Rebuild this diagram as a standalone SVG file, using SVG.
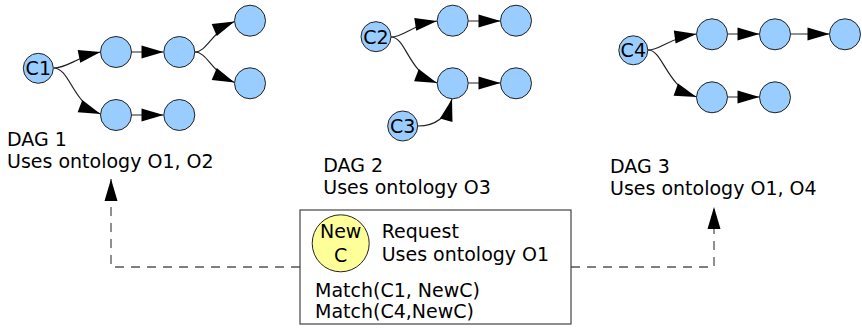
<svg xmlns="http://www.w3.org/2000/svg" width="862" height="328" viewBox="0 0 862 328">
<defs>
<marker id="arr" markerUnits="userSpaceOnUse" markerWidth="24" markerHeight="15" refX="22" refY="7" orient="auto" overflow="visible">
<path d="M0,0.5 L22,7 L0,13.5 z" fill="#000"/>
</marker>
</defs>
<style>
.n{fill:#99ccff;stroke:#222;stroke-width:1}
.y{fill:#ffff99;stroke:#222;stroke-width:1}
.e{fill:none;stroke:#222;stroke-width:1.2;marker-end:url(#arr)}
.d{fill:none;stroke:#555;stroke-width:1.3;stroke-dasharray:9 7;marker-end:url(#arr)}
text{font-family:"DejaVu Sans",Verdana,sans-serif;font-size:19px;fill:#000}
.c{text-anchor:middle}
</style>
<rect width="862" height="328" fill="#fff"/>
<g id="connectors">
<path class="e" d="M53.5,68 C68,68 76,57 100.5,52"/>
<path class="e" d="M53.5,68 C70,68 72,103 100.5,114"/>
<path class="e" d="M131.5,52 H163.5"/>
<path class="e" d="M195,52 C207,52 212,31 234.5,21.5"/>
<path class="e" d="M195,52 C207,52 212,73 234.5,82.5"/>
<path class="e" d="M131.5,115 H163.5"/>
<path class="e" d="M391,37 C404,37 411,25 437,21"/>
<path class="e" d="M391,37 C406,37 408,72 437,83"/>
<path class="e" d="M468,21 H500.5"/>
<path class="e" d="M468,83 H500.5"/>
<path class="e" d="M418,126 C432,126 446,121 452,99"/>
<path class="e" d="M648,50 C661,50 668,38 696.5,34"/>
<path class="e" d="M648,50 C663,50 666,86 696.5,97"/>
<path class="e" d="M727.5,34 H759.5"/>
<path class="e" d="M790.5,34 H829.5"/>
<path class="e" d="M727.5,97 H759.5"/>
<path class="d" d="M300,267 H111 V179"/>
<path class="d" d="M571,267 H714 V207"/>
</g>
<g id="dag1">
<g id="C1"><circle class="n" cx="38.3" cy="68.3" r="15"/><text class="c" x="38.3" y="75">C1</text></g>
<g id="d1a"><circle class="n" cx="116" cy="52" r="15.5"/></g>
<g id="d1b"><circle class="n" cx="179.3" cy="52" r="15.5"/></g>
<g id="d1c"><circle class="n" cx="250" cy="20.7" r="15.5"/></g>
<g id="d1d"><circle class="n" cx="250" cy="83.3" r="15.5"/></g>
<g id="d1e"><circle class="n" cx="116" cy="115" r="15.5"/></g>
<g id="d1f"><circle class="n" cx="179.3" cy="115" r="15.5"/></g>
<text x="7" y="146">DAG 1</text>
<text x="7" y="168">Uses ontology O1, O2</text>
</g>
<g id="dag2">
<g id="C2"><circle class="n" cx="376" cy="36.7" r="15"/><text class="c" x="376" y="43.5">C2</text></g>
<g id="C3"><circle class="n" cx="402.7" cy="126" r="15"/><text class="c" x="402.7" y="132.8">C3</text></g>
<g id="d2a"><circle class="n" cx="452.7" cy="20.7" r="15.5"/></g>
<g id="d2b"><circle class="n" cx="516" cy="20.7" r="15.5"/></g>
<g id="d2c"><circle class="n" cx="452.7" cy="83.3" r="15.5"/></g>
<g id="d2d"><circle class="n" cx="516" cy="83.3" r="15.5"/></g>
<text x="323.3" y="171.7">DAG 2</text>
<text x="323.3" y="194">Uses ontology O3</text>
</g>
<g id="dag3">
<g id="C4"><circle class="n" cx="633.3" cy="50.3" r="14.5"/><text class="c" x="633.3" y="57">C4</text></g>
<g id="d3a"><circle class="n" cx="712" cy="34.3" r="15.5"/></g>
<g id="d3b"><circle class="n" cx="775" cy="34.3" r="15.5"/></g>
<g id="d3c"><circle class="n" cx="845" cy="34.3" r="15.5"/></g>
<g id="d3d"><circle class="n" cx="712" cy="97.3" r="15.5"/></g>
<g id="d3e"><circle class="n" cx="775" cy="97.3" r="15.5"/></g>
<text x="610" y="173.3">DAG 3</text>
<text x="610" y="195.3">Uses ontology O1, O4</text>
</g>
<g id="request">
<rect x="300" y="210" width="271" height="114" fill="#fff" stroke="#444" stroke-width="1.2"/>
<circle class="y" cx="340.7" cy="243.3" r="28.5"/>
<text class="c" x="340.7" y="238.3">New</text>
<text class="c" x="340.7" y="261.5">C</text>
<text x="381.7" y="237.7">Request</text>
<text x="381.7" y="260.7">Uses ontology O1</text>
<text x="315" y="296.5">Match(C1, NewC)</text>
<text x="315" y="318.3">Match(C4,NewC)</text>
</g>
</svg>
